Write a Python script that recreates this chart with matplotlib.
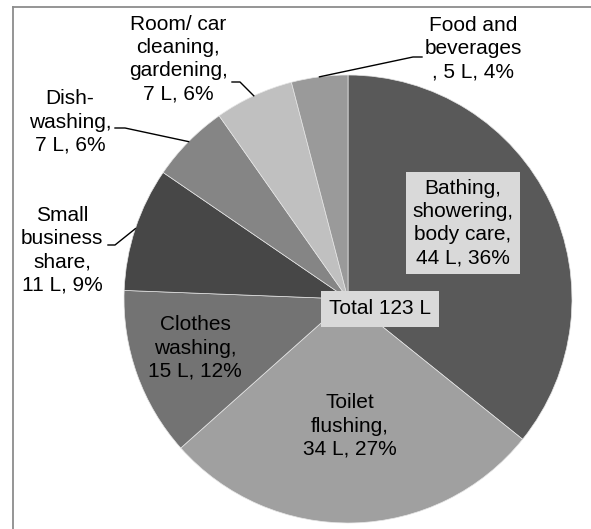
import numpy as np
import matplotlib
matplotlib.use("Agg")
import matplotlib.pyplot as plt
from matplotlib.lines import Line2D

# Daily per-capita water use, litres
categories = ["Bathing,\nshowering,\nbody care", "Toilet\nflushing", "Clothes\nwashing",
              "Small\nbusiness\nshare", "Dish-\nwashing", "Room/ car\ncleaning,\ngardening",
              "Food and\nbeverages\n"]
litres = [44, 34, 15, 11, 7, 7, 5]
percent = [36, 27, 12, 9, 6, 6, 4]
colors = ["#595959", "#a0a0a0", "#737373", "#474747", "#858585", "#c0c0c0", "#9a9a9a"]

W, H = 591, 529
CX, CY, R = 348, 299, 224  # pie centre and radius, in pixels from top-left

plt.rcParams['font.family'] = ['Liberation Sans', 'DejaVu Sans']

fig = plt.figure(figsize=(W / 100, H / 100), dpi=100)
ax = fig.add_axes([0, 0, 1, 1])

wedges, _ = ax.pie(litres, colors=colors, startangle=90, counterclock=False,
                   center=(CX, H - CY), radius=R,
                   wedgeprops=dict(edgecolor="#e6e6e6", linewidth=0.5))
ax.set_xlim(0, W)
ax.set_ylim(0, H)
ax.set_aspect("equal")
ax.axis("off")


def label(i):
    if i == len(categories) - 1:
        return f"{categories[i]}, {litres[i]} L, {percent[i]}%"
    return f"{categories[i]},\n{litres[i]} L, {percent[i]}%"


def edge_point(w):
    mid = np.deg2rad((w.theta1 + w.theta2) / 2)
    return CX + R * np.cos(mid), (H - CY) + R * np.sin(mid)


fs = 15
ls = 1.28

# labels inside the wedges
inside = {0: (463, 223), 1: (350, 426), 2: (195, 348)}
for i, (x, y) in inside.items():
    box = dict(boxstyle="square,pad=0.3", fc="#d9d9d9", ec="none") if i == 0 else None
    ax.text(x, H - y, label(i), ha="center", va="center", fontsize=fs,
            linespacing=ls, bbox=box)

# labels outside with leader lines: text centre, elbow, end near text
outside = {
    3: ((62, 250), (115, 245), (108, 245)),
    4: ((70, 122), (125, 128), (115, 128)),
    5: ((178, 59), (240, 82), (232, 82)),
    6: ((473, 49), (413, 57), (422, 57)),
}
for i, (txt, elbow, end) in outside.items():
    ax.text(txt[0], H - txt[1], label(i), ha="center", va="center", fontsize=fs,
            linespacing=ls)
    ex, ey = edge_point(wedges[i])
    ax.plot([ex, elbow[0], end[0]], [ey, H - elbow[1], H - end[1]],
            color="black", lw=1)

ax.text(380, H - 309, "Total 123 L", ha="center", va="center", fontsize=fs,
        bbox=dict(boxstyle="square,pad=0.4", fc="#d9d9d9", ec="none"))

# chart area border (top and left edges)
fig.add_artist(Line2D([13 / W, 1], [1 - 7 / H, 1 - 7 / H], color="#8c8c8c", lw=1.3))
fig.add_artist(Line2D([13 / W, 13 / W], [0, 1 - 7 / H], color="#8c8c8c", lw=1.3))

fig.savefig("out.png", dpi=100)
